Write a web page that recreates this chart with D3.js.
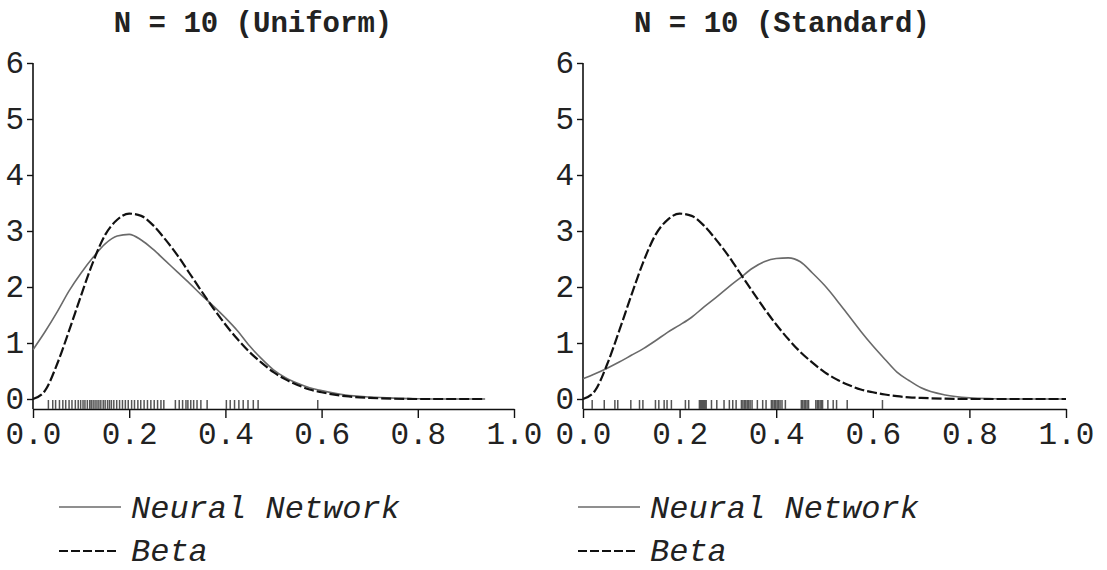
<!DOCTYPE html>
<html>
<head>
<meta charset="utf-8">
<script src="https://cdn.jsdelivr.net/npm/d3@7"></script>
<style>
  body { margin: 0; background: #fff; }
  svg text { font-family: "Liberation Mono", "Courier New", monospace; fill: #222; }
</style>
</head>
<body>
<svg id="chart" width="1107" height="570"></svg>
<script>
// Tick values shared by both panels
const xTicks = [0, 0.2, 0.4, 0.6, 0.8, 1.0];
const yTicks = [0, 1, 2, 3, 4, 5, 6];

// Panel titles and legend labels
const titles = ["N = 10 (Uniform)", "N = 10 (Standard)"];
const seriesNames = ["Neural Network", "Beta"];

// Uniform panel: density estimates on a grid
const uniformX = [0, 0.025, 0.05, 0.075, 0.1, 0.125, 0.15, 0.175, 0.2, 0.225, 0.25, 0.275, 0.3, 0.325,
  0.35, 0.375, 0.4, 0.425, 0.45, 0.475, 0.5, 0.525, 0.55, 0.575, 0.6, 0.65, 0.7, 0.75, 0.8, 0.85, 0.9, 0.94];
const uniformNN = [0.88, 1.2, 1.55, 1.93, 2.25, 2.53, 2.77, 2.91, 2.94, 2.84, 2.67, 2.47, 2.27, 2.07,
  1.86, 1.66, 1.45, 1.22, 0.95, 0.72, 0.52, 0.38, 0.28, 0.2, 0.15, 0.07, 0.035, 0.015, 0.005, 0, 0, 0];
const uniformBeta = [0, 0.15, 0.62, 1.22, 1.85, 2.45, 2.93, 3.2, 3.31, 3.27, 3.1, 2.85, 2.57, 2.25,
  1.93, 1.62, 1.33, 1.07, 0.84, 0.65, 0.48, 0.35, 0.25, 0.17, 0.12, 0.05, 0.02, 0.005, 0, 0, 0, 0];
const uniformRug = [0.032, 0.041, 0.047, 0.055, 0.062, 0.068, 0.075, 0.081, 0.088, 0.094, 0.099, 0.104,
  0.108, 0.113, 0.118, 0.121, 0.125, 0.129, 0.133, 0.137, 0.141, 0.146, 0.150, 0.155, 0.159, 0.163,
  0.168, 0.174, 0.180, 0.186, 0.192, 0.198, 0.205, 0.211, 0.218, 0.224, 0.231, 0.238, 0.245, 0.252,
  0.259, 0.266, 0.272, 0.296, 0.304, 0.311, 0.318, 0.322, 0.328, 0.334, 0.341, 0.349, 0.362, 0.402,
  0.410, 0.419, 0.428, 0.437, 0.447, 0.458, 0.468, 0.592];

// Standard panel: density estimates on a grid
const standardX = [0, 0.025, 0.05, 0.075, 0.1, 0.125, 0.15, 0.175, 0.2, 0.225, 0.25, 0.275, 0.3, 0.325,
  0.35, 0.375, 0.4, 0.425, 0.45, 0.475, 0.5, 0.525, 0.55, 0.575, 0.6, 0.625, 0.65, 0.675, 0.7,
  0.75, 0.8, 0.85, 0.9, 0.95, 1.0];
const standardNN = [0.36, 0.45, 0.55, 0.66, 0.78, 0.9, 1.04, 1.19, 1.32, 1.46, 1.64, 1.81, 1.99, 2.16,
  2.33, 2.45, 2.51, 2.52, 2.45, 2.25, 2.03, 1.77, 1.49, 1.21, 0.95, 0.71, 0.48, 0.33, 0.2,
  0.07, 0.02, 0.005, 0, 0, 0];
const standardBeta = [0, 0.15, 0.62, 1.22, 1.85, 2.45, 2.93, 3.2, 3.31, 3.27, 3.1, 2.85, 2.57, 2.25,
  1.93, 1.62, 1.33, 1.07, 0.84, 0.65, 0.48, 0.35, 0.25, 0.17, 0.12, 0.08, 0.05, 0.03, 0.02,
  0.005, 0, 0, 0, 0, 0];
const standardRug = [0.019, 0.044, 0.066, 0.072, 0.099, 0.117, 0.124, 0.150, 0.157, 0.168, 0.174, 0.183,
  0.212, 0.219, 0.241, 0.243, 0.245, 0.247, 0.249, 0.251, 0.253, 0.255, 0.266, 0.277, 0.292, 0.303,
  0.310, 0.317, 0.328, 0.331, 0.334, 0.337, 0.340, 0.343, 0.346, 0.350, 0.361, 0.372, 0.379, 0.390,
  0.393, 0.396, 0.399, 0.402, 0.405, 0.408, 0.412, 0.419, 0.452, 0.455, 0.458, 0.461, 0.464, 0.467,
  0.482, 0.485, 0.488, 0.491, 0.494, 0.496, 0.507, 0.518, 0.525, 0.547, 0.620];

const svg = d3.select("#chart");

const panels = [
  { title: titles[0], x: uniformX, nn: uniformNN, beta: uniformBeta, rug: uniformRug,
    range: [33, 514], titleX: 253, legendX: 59 },
  { title: titles[1], x: standardX, nn: standardNN, beta: standardBeta, rug: standardRug,
    range: [583, 1066], titleX: 782, legendX: 578 }
];

const yScale = d3.scaleLinear().domain([0, 6]).range([399, 63]);
const axisY = 409;

panels.forEach(p => {
  const xScale = d3.scaleLinear().domain([0, 1]).range(p.range);
  const g = svg.append("g");

  // Title
  g.append("text")
    .attr("x", p.titleX).attr("y", 32)
    .attr("text-anchor", "middle")
    .style("font-size", "29px").style("font-weight", "bold")
    .text(p.title);

  // Y axis
  const ya = g.append("g")
    .attr("transform", `translate(${p.range[0]},0)`)
    .call(d3.axisLeft(yScale).tickValues(yTicks).tickSize(6).tickSizeOuter(0).tickPadding(3)
      .tickFormat(d3.format("d")));
  ya.select(".domain").attr("d", `M0,${yScale(6)}V${axisY}`).attr("stroke", "#111").attr("stroke-width", 1.6);
  ya.selectAll(".tick line").attr("stroke", "#111").attr("stroke-width", 1.4);
  ya.selectAll(".tick text").style("font-size", "31px").attr("fill", "#333");

  // X axis
  const xa = g.append("g")
    .attr("transform", `translate(0,${axisY})`)
    .call(d3.axisBottom(xScale).tickValues(xTicks).tickSize(9).tickSizeOuter(0).tickPadding(4)
      .tickFormat(d3.format(".1f")));
  xa.select(".domain").attr("stroke", "#111").attr("stroke-width", 1.6);
  xa.selectAll(".tick line").attr("stroke", "#111").attr("stroke-width", 1.4);
  xa.selectAll(".tick text").style("font-size", "31px").attr("fill", "#333");

  // Rug of observations
  g.append("g").selectAll("line").data(p.rug).join("line")
    .attr("x1", d => xScale(d)).attr("x2", d => xScale(d))
    .attr("y1", axisY - 9).attr("y2", axisY)
    .attr("stroke", "#555").attr("stroke-width", 1.5);

  const line = d3.line()
    .x(d => xScale(d[0])).y(d => yScale(d[1]))
    .curve(d3.curveMonotoneX);

  // Neural network estimate (solid grey)
  g.append("path")
    .datum(d3.zip(p.x, p.nn))
    .attr("d", line)
    .attr("fill", "none").attr("stroke", "#6a6a6a").attr("stroke-width", 1.6);

  // Beta density (dashed black)
  g.append("path")
    .datum(d3.zip(p.x, p.beta))
    .attr("d", line)
    .attr("fill", "none").attr("stroke", "#111").attr("stroke-width", 2.2)
    .attr("stroke-dasharray", "10,3");

  // Legend
  const lg = g.append("g").attr("transform", `translate(${p.legendX},0)`);
  lg.append("line").attr("x1", 0).attr("x2", 62).attr("y1", 507).attr("y2", 507)
    .attr("stroke", "#6a6a6a").attr("stroke-width", 1.6);
  lg.append("text").attr("x", 72).attr("y", 518)
    .style("font-size", "32px").style("font-style", "italic").text(seriesNames[0]);
  lg.append("line").attr("x1", 0).attr("x2", 60).attr("y1", 551).attr("y2", 551)
    .attr("stroke", "#111").attr("stroke-width", 2).attr("stroke-dasharray", "9,3");
  lg.append("text").attr("x", 72).attr("y", 561)
    .style("font-size", "32px").style("font-style", "italic").text(seriesNames[1]);
});
</script>
</body>
</html>
